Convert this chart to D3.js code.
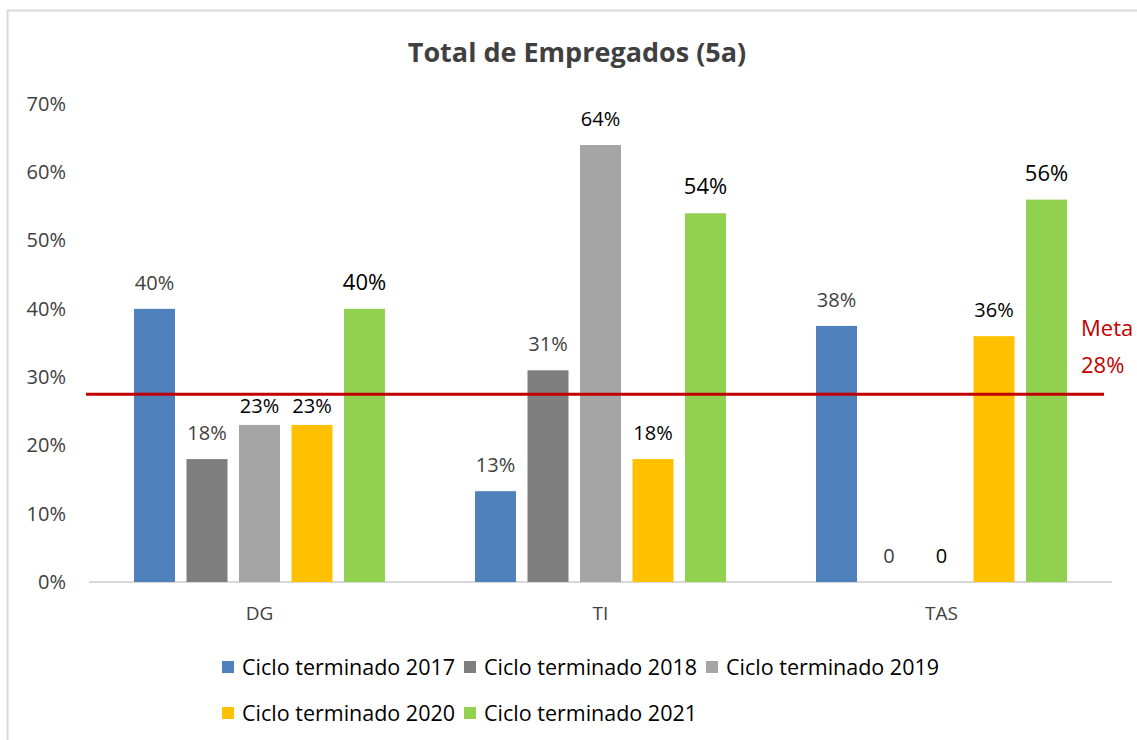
<!DOCTYPE html>
<html>
<head>
<meta charset="utf-8">
<script src="https://cdn.jsdelivr.net/npm/d3@7"></script>
<style>
  html, body { margin: 0; padding: 0; background: #fff; }
  svg { display: block; }
  text { font-family: "Open Sans", sans-serif; }
</style>
</head>
<body>
<svg id="chart" width="1137" height="740"></svg>
<script>
// ---- data ----
const categories = ["DG", "TI", "TAS"];
const seriesNames = ["Ciclo terminado 2017", "Ciclo terminado 2018", "Ciclo terminado 2019", "Ciclo terminado 2020", "Ciclo terminado 2021"];
const values2017 = [0.40, 0.133, 0.375];
const values2018 = [0.18, 0.31, 0];
const values2019 = [0.23, 0.64, 0];
const values2020 = [0.23, 0.18, 0.36];
const values2021 = [0.40, 0.54, 0.56];
const seriesColors = ["#4F81BD", "#7F7F7F", "#A5A5A5", "#FFC000", "#92D050"];
const yTicks = [0, 0.1, 0.2, 0.3, 0.4, 0.5, 0.6, 0.7];
const metaValue = 0.275;
const metaLabel = "Meta";
const title = "Total de Empregados (5a)";

const seriesValues = [values2017, values2018, values2019, values2020, values2021];

// ---- layout ----
const svg = d3.select("#chart");
const plot = { left: 89, right: 1112, top: 104, bottom: 582 };

// chart border
svg.append("rect")
  .attr("x", 7.5).attr("y", 10.5)
  .attr("width", 1200).attr("height", 800)
  .attr("fill", "none").attr("stroke", "#D9D9D9").attr("stroke-width", 2);

const x = d3.scaleBand().domain(categories).range([plot.left, plot.right]).padding(0);
const inner = d3.scaleBand().domain(d3.range(seriesNames.length))
  .range([45, x.bandwidth() - 45]).paddingInner(0.219).paddingOuter(0);
const y = d3.scaleLinear().domain([0, 0.7]).range([plot.bottom, plot.top]);

// title
svg.append("text")
  .attr("x", 577).attr("y", 62)
  .attr("text-anchor", "middle")
  .attr("font-size", 27).attr("font-weight", 700)
  .attr("fill", "#404040")
  .text(title);

// y axis labels
const pct = d3.format(".0%");
const yAxis = d3.axisLeft(y).tickValues(yTicks).tickFormat(pct).tickSize(0).tickPadding(0);
const yg = svg.append("g").attr("transform", `translate(66,0)`).call(yAxis);
yg.select(".domain").remove();
yg.selectAll("text").attr("font-size", 20).attr("fill", "#404040")
  .attr("font-family", "Open Sans, sans-serif");

// x baseline
svg.append("line")
  .attr("x1", plot.left).attr("x2", plot.right)
  .attr("y1", y(0)).attr("y2", y(0))
  .attr("stroke", "#D9D9D9").attr("stroke-width", 2);

// x axis labels
const xAxis = d3.axisBottom(x).tickSize(0).tickPadding(0);
const xg = svg.append("g").attr("transform", `translate(0,${y(0) + 24})`).call(xAxis);
xg.select(".domain").remove();
xg.selectAll("text").attr("font-size", 19).attr("fill", "#404040")
  .attr("font-family", "Open Sans, sans-serif");

// bars
const flat = [];
seriesValues.forEach((vals, si) => {
  vals.forEach((v, ci) => flat.push({ si, cat: categories[ci], v }));
});

svg.append("g").selectAll("rect").data(flat).join("rect")
  .attr("x", d => x(d.cat) + inner(d.si))
  .attr("y", d => y(d.v))
  .attr("width", inner.bandwidth())
  .attr("height", d => y(0) - y(d.v))
  .attr("fill", d => seriesColors[d.si]);

// data labels (nudged below the target line when they would collide with it)
const labelFmt = v => v === 0 ? "0" : pct(v);
const metaY = y(metaValue);
const labelY = d => {
  const base = y(d.v) - 19;
  const top = base - 16, bottom = base + 4;
  if (top < metaY && bottom > metaY - 2) return metaY + 19;
  return base;
};
svg.append("g").selectAll("text").data(flat).join("text")
  .attr("x", d => x(d.cat) + inner(d.si) + inner.bandwidth() / 2)
  .attr("y", labelY)
  .attr("text-anchor", "middle")
  .attr("font-size", d => d.si === 4 ? 22 : 20)
  .attr("fill", d => d.si < 2 ? "#404040" : "#000000")
  .text(d => labelFmt(d.v));

// meta line
svg.append("line")
  .attr("x1", plot.left - 3).attr("x2", plot.right - 8)
  .attr("y1", metaY).attr("y2", metaY)
  .attr("stroke", "#C00000").attr("stroke-width", 3);

svg.append("text")
  .attr("x", 1081).attr("y", 336)
  .attr("font-size", 22).attr("fill", "#C00000")
  .text(metaLabel);
svg.append("text")
  .attr("x", 1081).attr("y", 373)
  .attr("font-size", 22).attr("fill", "#C00000")
  .text(pct(metaValue));

// legend
const legendCols = 3, colStep = 242, legendX = 222, rowY = [667, 713];
const lg = svg.append("g").selectAll("g").data(seriesNames).join("g")
  .attr("transform", (d, i) => `translate(${legendX + (i % legendCols) * colStep},${rowY[Math.floor(i / legendCols)]})`);
lg.append("rect")
  .attr("x", 0).attr("y", -6).attr("width", 12).attr("height", 12)
  .attr("fill", (d, i) => seriesColors[i]);
lg.append("text")
  .attr("x", 20).attr("y", 7.5)
  .attr("font-size", 21.5).attr("fill", "#000")
  .text(d => d);
</script>
</body>
</html>
